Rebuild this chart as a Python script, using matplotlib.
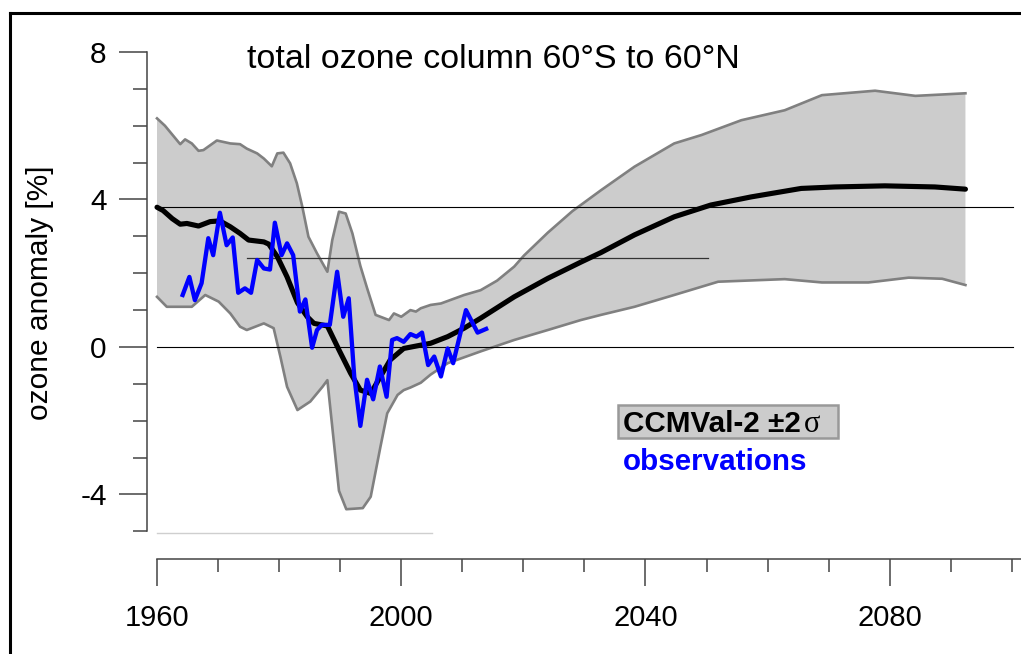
import numpy as np
import matplotlib
matplotlib.use('Agg')
import matplotlib.pyplot as plt
from matplotlib.lines import Line2D
from matplotlib.patches import Rectangle

plt.rcParams['font.family'] = ['Liberation Sans', 'DejaVu Sans']
plt.rcParams['axes.unicode_minus'] = False

# CCMVal-2 multi-model mean
mean_year = [1960.0, 1961.0, 1962.5, 1963.8, 1964.9, 1966.8, 1968.7, 1970.3, 1972.0, 1973.6,
             1975.0, 1977.5, 1978.3, 1979.7, 1981.3, 1983.0, 1984.6, 1985.7, 1987.9, 1989.8,
             1991.7, 1993.3, 1995.0, 1996.6, 1998.2, 2000.4, 2003.2, 2004.8, 2007.6, 2010.3,
             2013.0, 2018.5, 2024.0, 2029.4, 2032.7, 2038.2, 2044.7, 2050.7, 2057.3, 2065.5,
             2071.0, 2079.2, 2087.4, 2092.4]
mean_val = [3.79, 3.70, 3.48, 3.33, 3.35, 3.28, 3.40, 3.42, 3.26, 3.08,
            2.90, 2.85, 2.79, 2.45, 1.90, 1.20, 0.82, 0.64, 0.57, -0.08,
            -0.71, -1.17, -1.26, -0.80, -0.35, -0.04, 0.05, 0.10, 0.28, 0.51,
            0.78, 1.36, 1.86, 2.30, 2.56, 3.04, 3.53, 3.85, 4.07, 4.30,
            4.34, 4.37, 4.34, 4.28]

# +2 sigma envelope
up_year = [1960.0, 1961.3, 1963.8, 1964.6, 1965.7, 1966.8, 1967.6, 1969.8, 1972.0, 1973.6,
           1974.7, 1976.4, 1977.5, 1978.8, 1979.7, 1980.7, 1981.8, 1982.9, 1983.8, 1984.8,
           1986.2, 1987.9, 1988.7, 1989.8, 1990.9, 1992.0, 1993.3, 1994.4, 1995.8, 1998.0,
           1998.8, 2000.0, 2001.5, 2002.4, 2003.2, 2004.8, 2006.5, 2010.3, 2013.0, 2015.7,
           2018.5, 2020.1, 2024.0, 2028.0, 2032.7, 2038.2, 2044.7, 2049.2, 2055.7, 2062.8,
           2068.9, 2077.6, 2084.2, 2092.4]
up_val = [6.20, 6.00, 5.50, 5.63, 5.52, 5.32, 5.34, 5.60, 5.52, 5.50,
          5.38, 5.25, 5.11, 4.90, 5.25, 5.27, 4.98, 4.44, 3.80, 2.99,
          2.54, 2.04, 2.90, 3.67, 3.62, 3.08, 2.20, 1.60, 0.87, 0.73,
          0.91, 0.82, 1.00, 0.96, 1.05, 1.14, 1.18, 1.41, 1.54, 1.80,
          2.18, 2.48, 3.10, 3.68, 4.25, 4.89, 5.52, 5.75, 6.15, 6.42,
          6.83, 6.95, 6.81, 6.88]

# -2 sigma envelope
lo_year = [1960.0, 1961.6, 1963.2, 1965.7, 1967.9, 1970.1, 1972.0, 1973.6, 1974.7, 1977.5,
           1979.1, 1980.2, 1981.3, 1983.0, 1985.1, 1987.1, 1987.9, 1989.8, 1991.0, 1993.7,
           1995.0, 1996.6, 1997.7, 1999.4, 2000.4, 2001.5, 2003.2, 2004.8, 2007.6, 2013.0,
           2018.5, 2024.0, 2029.4, 2032.7, 2038.2, 2044.7, 2051.9, 2062.8, 2068.9, 2076.5,
           2083.1, 2088.6, 2092.4]
lo_val = [1.36, 1.09, 1.09, 1.09, 1.41, 1.23, 0.91, 0.55, 0.46, 0.64,
          0.51, -0.26, -1.08, -1.71, -1.48, -1.08, -0.90, -3.90, -4.40, -4.37,
          -4.06, -2.70, -1.80, -1.30, -1.17, -1.10, -0.97, -0.75, -0.44, -0.12,
          0.19, 0.46, 0.73, 0.87, 1.09, 1.41, 1.77, 1.84, 1.75, 1.75,
          1.88, 1.85, 1.68]

# observations
obs_year = [1964.2, 1965.3, 1966.2, 1967.3, 1968.4, 1969.2, 1970.3, 1971.4, 1972.4, 1973.3,
            1974.4, 1975.4, 1976.4, 1977.5, 1978.5, 1979.3, 1980.4, 1981.3, 1982.3, 1983.4,
            1984.3, 1985.4, 1986.2, 1987.0, 1988.3, 1989.5, 1990.5, 1991.4, 1992.3, 1993.3,
            1994.4, 1995.4, 1996.5, 1997.6, 1998.5, 1999.3, 2000.4, 2001.5, 2002.5, 2003.4,
            2004.4, 2005.4, 2006.5, 2007.6, 2008.5, 2010.6, 2012.5, 2013.9]
obs_val = [1.41, 1.90, 1.27, 1.73, 2.95, 2.49, 3.64, 2.76, 2.97, 1.47,
           1.59, 1.47, 2.36, 2.13, 2.10, 3.37, 2.49, 2.81, 2.49, 0.96,
           1.29, -0.02, 0.46, 0.60, 0.60, 2.04, 0.82, 1.32, -0.80, -2.14,
           -0.89, -1.42, -0.53, -1.35, 0.19, 0.24, 0.14, 0.35, 0.28, 0.39,
           -0.49, -0.26, -0.80, -0.04, -0.44, 1.00, 0.39, 0.49]

# reference levels
ref_full = [0.0, 3.8]
ref_short = 2.42
ref_short_span = (1974.8, 2050.3)

W, H = 1021, 654
def fx(px):
    return px / W
def fy(py):
    return 1 - py / H

fig = plt.figure(figsize=(W / 100, H / 100), dpi=100)
ax = fig.add_axes([fx(147), fy(559), fx(1021) - fx(147), fy(52) - fy(559)])
ax.set_xlim(1958.36, 2101.5)
ax.set_ylim(-5.75, 8)

# grey +-2 sigma band
ax.fill(np.r_[up_year, lo_year[::-1]], np.r_[up_val, lo_val[::-1]],
        facecolor='#cccccc', edgecolor='none', zorder=1)
ax.plot(up_year, up_val, color='#808080', lw=1.9, zorder=2)
ax.plot(lo_year, lo_val, color='#808080', lw=1.9, zorder=2)

# faint base line left over from the original drawing
ax.plot([1960, 2005], [-5.05, -5.05], color='#cfcfcf', lw=1, zorder=1)

for r in ref_full:
    ax.plot([1960, 2100.2], [r, r], color='k', lw=0.8, zorder=3)
ax.plot(ref_short_span, [ref_short, ref_short], color='#333333', lw=0.9, zorder=3)

ax.plot(mean_year, mean_val, color='k', lw=3.7, solid_capstyle='round',
        solid_joinstyle='round', zorder=4)
ax.plot(obs_year, obs_val, color='#0000ff', lw=3.1, zorder=5)

# axes
for s in ['top', 'right']:
    ax.spines[s].set_visible(False)
ax.spines['left'].set_bounds(-5, 8)
ax.spines['bottom'].set_bounds(1960, 2101.5)
for s in ['left', 'bottom']:
    ax.spines[s].set_color('#444444')
    ax.spines[s].set_linewidth(1.1)

ax.set_yticks([-4, 0, 4, 8])
ax.set_yticks(range(-5, 9), minor=True)
ax.set_xticks([1960, 2000, 2040, 2080])
ax.set_xticks(range(1960, 2101, 10), minor=True)
ax.tick_params(axis='y', which='major', length=20, width=1.1, color='#444444',
               labelsize=21.5, pad=9)
ax.tick_params(axis='y', which='minor', length=10, width=1.1, color='#444444')
ax.tick_params(axis='x', which='major', length=19.5, width=1.1, color='#444444',
               labelsize=21, pad=13)
ax.tick_params(axis='x', which='minor', length=9.5, width=1.1, color='#444444')

# texts
fig.text(fx(247), fy(68), 'total ozone column 60°S to 60°N', fontsize=24.5,
         ha='left', va='baseline')
fig.text(fx(40), fy(293), 'ozone anomaly [%]', rotation=90, fontsize=21.5,
         ha='center', va='center')

# legend
fig.add_artist(Rectangle((fx(618), fy(438)), fx(838) - fx(618), fy(405) - fy(438),
                         transform=fig.transFigure, facecolor='#cccccc',
                         edgecolor='#999999', lw=1.8))
fig.text(fx(623), fy(432), 'CCMVal-2 ±2', fontsize=21.3, fontweight='bold',
         ha='left', va='baseline')
fig.text(fx(804), fy(432), 'σ', fontsize=22, family='Liberation Serif',
         ha='left', va='baseline')
fig.text(fx(623), fy(470), 'observations', fontsize=21.3, fontweight='bold',
         color='#0000ff', ha='left', va='baseline')

# outer frame
fig.add_artist(Line2D([fx(9.5), fx(9.5)], [fy(12.5), 0], transform=fig.transFigure,
                      color='k', lw=2.2))
fig.add_artist(Line2D([fx(9.5), 1], [fy(12.5), fy(12.5)], transform=fig.transFigure,
                      color='k', lw=2.2))

plt.savefig('out.png', dpi=100)
